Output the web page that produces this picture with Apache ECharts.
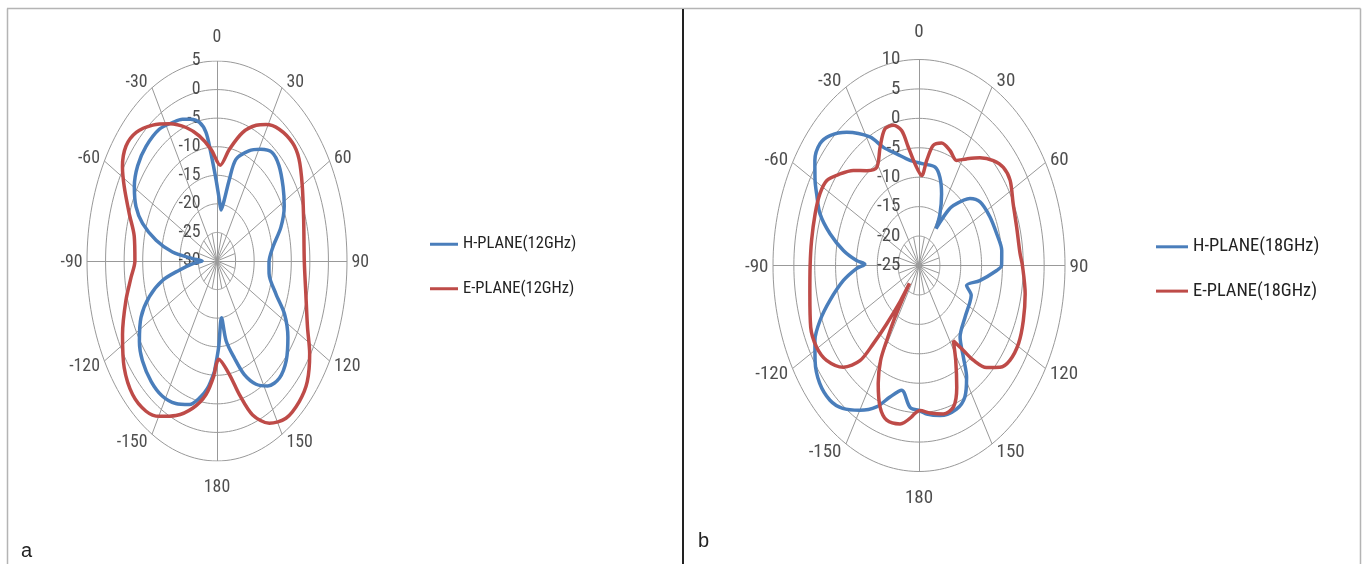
<!DOCTYPE html>
<html>
<head>
<meta charset="utf-8">
<script src="https://cdn.jsdelivr.net/npm/echarts@6/dist/echarts.min.js"></script>
<style>html,body{margin:0;padding:0;background:#fff;}#c{width:1367px;height:564px;}</style>
</head>
<body>
<div id="c"></div>
<script>
// ---------- data ----------
const angleTicks = [0, 30, 60, 90, 120, 150, 180, -150, -120, -90, -60, -30];
const radialTicksA = [-30, -25, -20, -15, -10, -5, 0, 5];
const radialTicksB = [-25, -20, -15, -10, -5, 0, 5, 10];
const seriesNamesA = ['H-PLANE(12GHz)', 'E-PLANE(12GHz)'];
const seriesNamesB = ['H-PLANE(18GHz)', 'E-PLANE(18GHz)'];
const panelLabels = ['a', 'b'];

// (a) 12 GHz, H-plane: angle (deg) and gain (dB) along the curve
const hAngle12 = [-178, -173.5, -169, -163.5, -156, -148, -140, -131, -124, -115.7, -109, -103, -99, -94, -90, -86.3, -82.5, -77.5, -71.8, -66.4, -59.6, -52, -43.6, -34, -26, -20.5, -16, -11, -7.5, -5, -1, 3.4, 7, 10.4, 13.1, 16, 24, 31, 38, 45, 54, 62, 71, 81, 91, 99, 110, 117, 125, 133, 140.6, 148, 154, 159.7, 164.6, 170, 173, 178.4];
const hValue12 = [-10.7, -7.6, -5.6, -3.8, -2.7, -2.15, -2.45, -3.4, -4.8, -7.3, -10.7, -15, -19.7, -23.5, -26, -23.4, -17.9, -13.2, -8.9, -6.2, -4.2, -2.9, -2.3, -2.2, -3.0, -3.5, -4.2, -5.3, -7.3, -11, -15.8, -19.3, -21, -19.1, -15.4, -11.5, -8.9, -7.2, -5.9, -6.4, -8.0, -9.5, -11.8, -14.8, -16, -15.8, -13.1, -9.6, -6.7, -4.5, -3.5, -4.2, -6.0, -8.8, -12.4, -15.8, -20, -14.8];

// (a) 12 GHz, E-plane
const eAngle12 = [-178, -172.7, -165.7, -157.8, -150.3, -144, -135.8, -126.8, -116.8, -105.8, -97, -90, -79, -70.5, -62.4, -57, -50.6, -44, -36, -28, -19.6, -12.3, -4.7, 3, 9.6, 17, 24, 29, 36, 44.5, 51, 60, 73, 90, 103.5, 115.5, 123, 131, 138, 146, 153.6, 160.4, 165.6, 170.5, 178.5];
const eValue12 = [-10.2, -6.4, -3.4, -0.8, 1.3, 2.5, 2.6, 1.2, -1.5, -4.5, -6.7, -7.9, -7.3, -4.9, -1.8, 0.35, 1.7, 1.3, -0.6, -2.8, -5.2, -7.6, -10.4, -13.2, -10.2, -6.5, -4.0, -2.7, -1.5, -1.0, -1.6, -3.5, -5.6, -6.5, -5.4, -3.0, -0.25, 2.2, 3.1, 3.2, 1.7, -1.4, -5.9, -9.9, -12.8];

// (b) 18 GHz, H-plane
const hAngle18 = [-180, -174.9, -168.9, -162.7, -157, -150, -143, -137, -130, -123, -117, -111.5, -105.6, -98, -92, -89, -86.8, -82, -75.8, -69.7, -63.6, -59.9, -54.4, -48.9, -44, -37.4, -28.3, -23, -15.8, -6.9, 3.4, 13, 18.5, 24, 29.8, 33, 36.3, 39, 47, 53.7, 64, 74, 82.7, 90, 92.6, 100, 106.6, 112, 117, 128.5, 141, 145.7, 149, 153.8, 159.7, 168.8, 175.8];
const hValue18 = [-0.4, -0.8, -3.4, -1.6, 1.1, 3.4, 5.4, 6.3, 6.1, 4.7, 3.0, 0.5, -2.8, -6.7, -10, -12, -10, -6.7, -3.0, 0.3, 2.4, 3.8, 5.7, 6.5, 5.7, 3.5, -0.2, -3.2, -5.3, -7.0, -7.7, -7.85, -9.2, -11.7, -14.9, -17.5, -13.8, -11.9, -8.3, -6.8, -6.1, -5.6, -5.0, -5.2, -6.35, -10.2, -13.1, -11.5, -11.3, -10.9, -9.35, -6.1, -2.85, -0.1, 1.0, 1.0, 0.3];

// (b) 18 GHz, E-plane
const eAngle18 = [-176, -170.4, -163.6, -158.8, -154, -150.3, -148.7, -146.8, -145.2, -143, -143.5, -142, -140.5, -138.8, -133.6, -126, -119.5, -112, -100.4, -90, -80.6, -70.6, -62.8, -56.8, -50.6, -44.3, -37.8, -31.3, -24.9, -19.4, -14.5, -10.3, -7.3, -3.2, 2.4, 5.9, 9.5, 14.6, 20.8, 26.8, 32.2, 38.6, 45, 50.5, 56.5, 65, 74.5, 85, 90, 100.7, 110.5, 119, 126.5, 131.7, 137, 141, 143.6, 147.2, 151.4, 156.4, 161, 167, 174, 179.4];
const eValue18 = [0.8, 2.3, 2.4, 0.8, -2.7, -6.4, -10.1, -14.5, -18.4, -21.2, -17.5, -12.4, -7.8, -3.5, 0.05, 2.4, 3.2, 3.0, 1.6, 1.1, 1.1, 1.4, 1.7, 1.4, -0.5, -2.45, -4.6, -5.5, -2.85, -0.4, -0.4, -1.7, -4.7, -7.7, -9.7, -7.05, -4.3, -3.5, -4.1, -5.0, -3.6, -1.6, 0.2, 1.2, 1.2, -0.1, -0.7, -0.7, -0.2, 0.9, 1.7, 2.3, 2.1, 1.0, -1.3, -4.3, -7.05, -9.8, -6.6, -2.4, 0.4, 0.9, 0.2, -0.35];

// ---------- font selection (prefer a narrow face like the reference) ----------
const measureCtx = document.createElement('canvas').getContext('2d');
function fontAvailable(name) {
  const s = 'H-PLANE(12GHz) -150 180';
  for (const base of ['monospace', 'serif']) {
    measureCtx.font = '40px ' + base;
    const w1 = measureCtx.measureText(s).width;
    measureCtx.font = '40px "' + name + '", ' + base;
    const w2 = measureCtx.measureText(s).width;
    if (Math.abs(w1 - w2) > 0.5) return true;
  }
  return false;
}
const candidates = ['Liberation Sans Narrow', 'Arial Narrow', 'Roboto Condensed', 'Open Sans Condensed', 'DejaVu Sans Condensed', 'Liberation Sans'];
const FAMILY = candidates.find(fontAvailable) || 'sans-serif';
const FONT = '"' + FAMILY + '", sans-serif';
function fitSize(sample, targetW, maxSize) {
  measureCtx.font = '100px ' + FONT;
  const wEm = measureCtx.measureText(sample).width / 100;
  return Math.min(maxSize, (targetW / wEm) * 1.08);
}
const tickSizeA = fitSize('-150', 28.5, 18);
const tickSizeB = fitSize('-150', 31.7, 19);
const legSizeA = fitSize(seriesNamesA[0], 105, 17.5);
const legSizeB = fitSize(seriesNamesB[0], 117, 18.5);

// ---------- styling ----------
const BLUE = '#4a7ebb';
const RED = '#be4b48';
const GRIDC = '#999999';
const TXT = '#222222';

function toXY(angle, value, rmin) {
  const r = Math.max(0, value - rmin);
  const a = angle * Math.PI / 180;
  return [r * Math.sin(a), r * Math.cos(a)];
}

function buildPolar(idx, ticks, curves, cfg) {
  const rmin = ticks[0];
  const rmaxVal = ticks[ticks.length - 1];
  const out = [];
  const rings = ticks.slice(1).map(t => {
    const pts = [];
    for (let a = 0; a <= 360; a += 2) pts.push(toXY(a, t, rmin));
    return { coords: pts };
  });
  out.push({ type: 'lines', coordinateSystem: 'cartesian2d', xAxisIndex: idx, yAxisIndex: idx,
    polyline: true, silent: true, data: rings, lineStyle: { color: GRIDC, width: 1, opacity: 1 }, z: 1 });
  const spokes = angleTicks.map(a => ({ coords: [[0, 0], toXY(a, rmaxVal, rmin)] }));
  for (let a = 15; a < 360; a += 30) spokes.push({ coords: [[0, 0], toXY(a, ticks[1], rmin)] });
  out.push({ type: 'lines', coordinateSystem: 'cartesian2d', xAxisIndex: idx, yAxisIndex: idx,
    silent: true, data: spokes, lineStyle: { color: GRIDC, width: 1, opacity: 1 }, z: 1 });
  out.push({ type: 'scatter', xAxisIndex: idx, yAxisIndex: idx, silent: true, symbolSize: 1,
    itemStyle: { color: 'rgba(0,0,0,0)' }, z: 3,
    data: ticks.map(t => [0, t - rmin, String(t)]),
    label: { show: true, position: 'left', distance: cfg.rdist, formatter: p => p.value[2],
      color: TXT, fontFamily: FONT, fontSize: cfg.fs } });
  const angData = angleTicks.map(a => {
    const p = toXY(a, rmaxVal, rmin);
    const rad = a * Math.PI / 180;
    const s = Math.sin(rad), c = Math.cos(rad);
    let label;
    if (Math.abs(s) < 1e-6) {
      label = { position: c > 0 ? 'top' : 'bottom', distance: c > 0 ? cfg.topDist : cfg.botDist };
    } else {
      label = { position: s > 0 ? 'right' : 'left', distance: 4, offset: [0, -c * 8 + 1.5] };
    }
    return { value: [p[0], p[1], String(a)], label };
  });
  out.push({ type: 'scatter', xAxisIndex: idx, yAxisIndex: idx, silent: true, symbolSize: 1,
    itemStyle: { color: 'rgba(0,0,0,0)' }, z: 3, data: angData,
    label: { show: true, formatter: p => p.value[2], color: TXT, fontFamily: FONT, fontSize: cfg.fs } });
  curves.forEach(cv => {
    const pts = cv.angles.map((a, i) => toXY(a, cv.values[i], rmin));
    pts.push(pts[0]);
    out.push({ type: 'line', name: cv.name, xAxisIndex: idx, yAxisIndex: idx, data: pts,
      smooth: 0.3, symbol: 'none', showSymbol: false, clip: false,
      lineStyle: { width: 3.5, color: cv.color }, itemStyle: { color: cv.color }, z: 5 });
  });
  return out;
}

const series = [].concat(
  buildPolar(0, radialTicksA, [
    { name: seriesNamesA[0], angles: hAngle12, values: hValue12, color: BLUE },
    { name: seriesNamesA[1], angles: eAngle12, values: eValue12, color: RED }
  ], { rdist: 16, topDist: 14, botDist: 17, fs: tickSizeA }),
  buildPolar(1, radialTicksB, [
    { name: seriesNamesB[0], angles: hAngle18, values: hValue18, color: BLUE },
    { name: seriesNamesB[1], angles: eAngle18, values: eValue18, color: RED }
  ], { rdist: 18, topDist: 17, botDist: 17, fs: tickSizeB })
);

const spanA = radialTicksA[radialTicksA.length - 1] - radialTicksA[0];
const spanB = radialTicksB[radialTicksB.length - 1] - radialTicksB[0];

const option = {
  backgroundColor: '#ffffff',
  animation: false,
  grid: [
    { left: 87, top: 61, width: 260, height: 400 },
    { left: 773, top: 59.5, width: 292, height: 412 }
  ],
  xAxis: [
    { gridIndex: 0, type: 'value', min: -spanA, max: spanA, show: false },
    { gridIndex: 1, type: 'value', min: -spanB, max: spanB, show: false }
  ],
  yAxis: [
    { gridIndex: 0, type: 'value', min: -spanA, max: spanA, show: false },
    { gridIndex: 1, type: 'value', min: -spanB, max: spanB, show: false }
  ],
  legend: [
    { data: seriesNamesA, left: 425, top: 239 - legSizeA / 2, orient: 'vertical', itemGap: 44 - legSizeA, itemWidth: 28, itemHeight: 3,
      icon: 'rect', selectedMode: false, textStyle: { fontFamily: FONT, fontSize: legSizeA, color: TXT } },
    { data: seriesNamesB, left: 1151, top: 242 - legSizeB / 2, orient: 'vertical', itemGap: 44.7 - legSizeB, itemWidth: 32, itemHeight: 3,
      icon: 'rect', selectedMode: false, textStyle: { fontFamily: FONT, fontSize: legSizeB, color: TXT } }
  ],
  graphic: [
    { type: 'line', shape: { x1: 7, y1: 8.5, x2: 1360.5, y2: 8.5 }, style: { stroke: '#b4b4b4', lineWidth: 1.5 }, silent: true },
    { type: 'line', shape: { x1: 7.5, y1: 8.5, x2: 7.5, y2: 564 }, style: { stroke: '#b4b4b4', lineWidth: 1.5 }, silent: true },
    { type: 'line', shape: { x1: 1360.5, y1: 8.5, x2: 1360.5, y2: 564 }, style: { stroke: '#b4b4b4', lineWidth: 1.5 }, silent: true },
    { type: 'line', shape: { x1: 683, y1: 9, x2: 683, y2: 564 }, style: { stroke: '#222222', lineWidth: 2 }, silent: true },
    { type: 'text', left: 21, top: 541, style: { text: panelLabels[0], font: '20px "Liberation Sans", Arial, sans-serif', fill: '#222' }, silent: true },
    { type: 'text', left: 698, top: 531, style: { text: panelLabels[1], font: '20px "Liberation Sans", Arial, sans-serif', fill: '#222' }, silent: true }
  ],
  series: series
};

const chart = echarts.init(document.getElementById('c'), null, { renderer: 'canvas' });
chart.setOption(option);
</script>
</body>
</html>
